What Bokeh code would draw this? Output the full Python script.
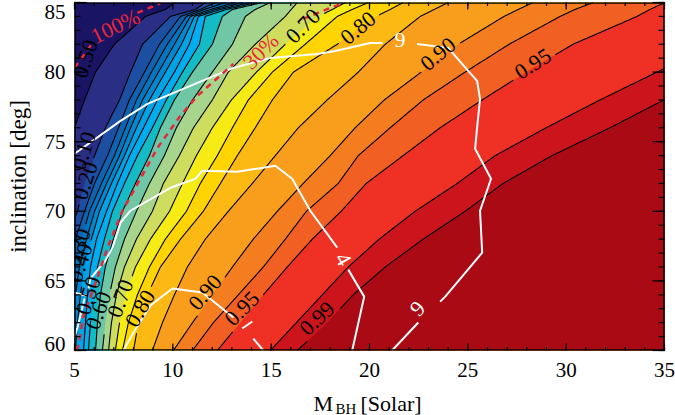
import numpy as np
from bokeh.plotting import figure
from bokeh.layouts import column
from bokeh.embed import file_html
from bokeh.resources import INLINE
from bokeh.core.properties import value
from bokeh.models import FixedTicker, LabelSet, ColumnDataSource

# Inclination rows at which each contour's M_BH was read
inclination = [60, 62, 64, 66, 68, 70, 72, 74, 76, 78, 80, 82, 84, 84.5, 85]

# Contour positions (M_BH along the rows above)
c010 = [2.26, 2.51, 2.76, 3.02, 3.53, 4.03, 4.29, 4.59, 5.0, 5.51, 6.07, 7.03, 8.61, 9.62, 10.13]
c020 = [3.27, 3.53, 3.78, 4.09, 4.59, 5.15, 5.51, 6.02, 6.57, 7.29, 7.85, 8.46, 9.88, 11.15, 11.66]
c025 = [4.03, 4.19, 4.39, 4.64, 5.05, 5.51, 6.02, 6.68, 7.24, 7.79, 8.56, 9.32, 10.39, 11.40, 12.16]
c030 = [4.39, 4.54, 4.75, 5.0, 5.36, 5.76, 6.37, 7.03, 7.59, 8.15, 8.91, 9.72, 10.69, 11.60, 12.67]
c035 = [4.70, 4.85, 5.05, 5.25, 5.61, 6.02, 6.63, 7.29, 7.85, 8.46, 9.27, 10.08, 10.89, 11.91, 13.18]
c040 = [5.05, 5.15, 5.30, 5.51, 5.86, 6.27, 6.88, 7.54, 8.15, 8.81, 9.62, 10.44, 11.10, 12.16, 13.59]
c045 = [5.46, 5.56, 5.66, 5.81, 6.12, 6.63, 7.18, 7.79, 8.51, 9.22, 10.08, 10.84, 11.30, 12.42, 13.94]
c050 = [5.71, 5.81, 5.97, 6.17, 6.52, 6.93, 7.54, 8.20, 8.96, 9.67, 10.49, 11.35, 11.65, 12.72, 14.25]
c055 = [6.07, 6.17, 6.32, 6.57, 6.98, 7.44, 8.10, 8.81, 9.37, 10.08, 11.0, 12.01, 12.52, 13.03, 14.55]
c060 = [6.42, 6.57, 6.78, 7.08, 7.54, 8.15, 8.81, 9.57, 10.18, 11.0, 12.01, 13.03, 13.69, 14.19, 14.96]
c065 = [6.73, 6.88, 7.13, 7.54, 8.15, 8.96, 9.52, 10.33, 11.05, 12.01, 12.82, 14.19, 15.72, 16.02, 16.33]
c070 = [7.08, 7.29, 7.59, 8.10, 8.86, 9.83, 10.49, 11.20, 12.01, 12.98, 14.25, 15.72, 17.40, 18.11, 18.77]
c075 = [7.44, 7.74, 8.20, 8.81, 9.62, 10.69, 11.40, 12.26, 13.03, 13.84, 15.06, 16.73, 18.36, 19.12, 19.94]
c080 = [8.0, 8.25, 8.71, 9.37, 10.39, 11.55, 12.42, 13.28, 14.19, 15.06, 16.13, 18.36, 20.34, 21.05, 21.71]
c085 = [8.96, 9.47, 10.08, 10.74, 11.65, 12.82, 14.04, 15.21, 16.38, 17.85, 19.43, 20.80, 22.58, 23.29, 24.0]
c090 = [10.03, 11.0, 12.01, 13.03, 14.09, 15.31, 16.63, 18.0, 19.27, 20.75, 22.63, 24.51, 26.84, 27.56, 28.32]
c0925 = [11.0, 12.06, 13.33, 14.60, 15.72, 16.79, 18.41, 19.43, 21.05, 22.73, 24.86, 27.10, 29.69, 30.45, 31.37]
c095 = [12.26, 13.43, 14.60, 15.82, 17.09, 18.56, 19.83, 21.71, 23.59, 25.73, 27.96, 30.35, 33.60, 34.26, 35.02]
c097 = [14.96, 16.28, 17.60, 18.92, 20.49, 22.32, 24.46, 26.39, 28.98, 31.72, 34.62, 37.56, 40.6, 41.4, 42.1]
c099 = [16.33, 17.85, 19.17, 20.80, 22.73, 24.86, 26.79, 29.28, 32.23, 34.97, 37.8, 40.6, 43.7, 44.4, 45.2]

contours = [c010, c020, c025, c030, c035, c040, c045, c050, c055, c060, c065, c070, c075, c080, c085, c090, c0925, c095, c097, c099]
levels = [0.10, 0.20, 0.25, 0.30, 0.35, 0.40, 0.45, 0.50, 0.55, 0.60, 0.65, 0.70, 0.75, 0.80, 0.85, 0.90, 0.925, 0.95, 0.97, 0.99]
band_colors = ["#2B2E85", "#1C4FA1", "#0F63B0", "#0077C0", "#0088D0", "#00A4E6", "#00AEEF", "#14BAC4", "#6FC7A5", "#A6D58B",
               "#CEDD5E", "#F6EB14", "#FFD400", "#FDB913", "#F99D1C", "#F47D20", "#F15F22", "#EF3024", "#CC141C", "#AA0A14"]
background_color = "#1A1464"

# Contour labels
label_text = ["0.99", "0.95", "0.90", "0.80", "0.70", "0.60", "0.50", "0.40", "0.30", "0.20", "0.10", "0.50", "0.70", "0.80", "0.90", "0.95"]
label_mbh = [17.34, 13.53, 11.65, 8.35, 7.34, 6.22, 5.71, 5.30, 5.20, 5.56, 5.46, 5.56, 16.63, 19.43, 23.49, 28.32]
label_inc = [62.29, 63.01, 64.16, 63.01, 63.73, 62.87, 63.94, 66.31, 67.39, 72.19, 74.34, 80.94, 83.3, 83.16, 81.29, 80.58]
label_angle = [43, 45, 50, 60, 70, 70, 72, 72, 72, 72, 72, 72, 45, 40, 40, 32]

# White contours
white_m = [
    [5.0, 7.34, 8.71, 11.25, 13.08, 14.96, 17.34, 18.26, 20.04, 20.65],
    [22.42, 24.0, 25.02, 25.47, 25.62, 25.47, 25.37, 26.18, 25.62, 25.73, 23.85, 23.59],
    [22.48, 21.15],
    [5.71, 5.81, 6.57, 6.93, 7.34, 7.84, 9.88, 11.15, 11.5, 13.28, 15.21, 16.07, 16.99, 18.36],
    [18.92, 19.73, 19.12],
    [5.0, 5.56],
    [5.51, 5.15, 5.0],
    [7.49, 8.0, 8.86, 9.98, 11.5, 13.08],
    [13.53, 14.04],
    [14.09, 14.6],
]
white_i = [
    [74.13, 76.5, 77.72, 79.23, 80.3, 81.02, 81.3, 81.52, 82.09, 82.09],
    [82.02, 81.74, 80.09, 79.37, 78.08, 76.0, 74.49, 72.34, 70.04, 67.03, 63.87, 63.51],
    [62.01, 60.0],
    [64.45, 65.16, 66.46, 67.39, 69.18, 70.04, 71.69, 72.34, 72.91, 72.84, 73.27, 72.34, 70.04, 67.39],
    [65.81, 63.87, 60.0],
    [64.16, 63.95],
    [63.73, 61.65, 60.93],
    [60.0, 61.29, 63.23, 64.45, 64.16, 62.37],
    [61.58, 62.08],
    [60.86, 60.0],
]
white_text = ["9", "9", "4"]
white_text_m = [21.55, 22.45, 18.65]
white_text_i = [82.3, 63.0, 66.55]
white_text_angle = [0, 45, -60]

# Red dashed contours
red_m = [[5.0, 5.56, 5.91], [8.2, 9.37], [5.10, 5.2, 5.46, 6.17, 6.68, 7.44, 9.22, 10.38, 11.25, 13.08], [16.63, 17.85, 18.77]]
red_i = [[80.3, 81.38, 82.09], [84.25, 84.96], [60.0, 60.36, 62.51, 65.24, 67.39, 70.04, 74.56, 76.86, 78.29, 80.59], [83.82, 84.53, 85.0]]
red_text = ["100%", "30%"]
red_text_m = [7.08, 14.47]
red_text_i = [83.3, 81.5]
red_text_angle = [26, 45]

x_major = [5, 10, 15, 20, 25, 30, 35]
y_major = [60, 65, 70, 75, 80, 85]
# The lowest and highest y labels sit a little inside the axis ends in the reference
y_label_pos = [60.5, 65, 70, 75, 80, 84.3]
y_label_txt = {60.5: "60", 65: "65", 70: "70", 75: "75", 80: "80", 84.3: "85"}
x_minor = list(range(5, 36))
y_minor = list(range(60, 86))

FONT = "Liberation Serif"
PX_W, PX_H = 590, 348
x_lo, x_hi, y_lo, y_hi = 5, 35, 60, 85
dx = (x_hi - x_lo) / PX_W   # data units per pixel
dy = (y_hi - y_lo) / PX_H

p = figure(width=675, height=385, output_backend="svg", toolbar_location=None,
           x_range=(x_lo, x_hi), y_range=(y_lo, y_hi),
           min_border_left=74, min_border_right=11, min_border_top=2, min_border_bottom=35,
           frame_width=PX_W, frame_height=PX_H,
           background_fill_color=background_color, border_fill_color="white")
p.grid.visible = False
p.outline_line_color = None


def to_px(m, i):
    return (np.asarray(m) - x_lo) / dx, (np.asarray(i) - y_lo) / dy


# filled bands, painted from the lowest level upward
for c, col in zip(contours, band_colors):
    xs = list(c) + [100, 100]
    ys = list(inclination) + [85, 60]
    p.patch(xs, ys, fill_color=col, line_color=None)

# contour lines with gaps round their labels
for c, lev in zip(contours, levels):
    xs, ys = [], []
    for k in range(len(c) - 1):
        t = np.linspace(0, 1, 24, endpoint=False)
        xs.extend(c[k] + (c[k + 1] - c[k]) * t)
        ys.extend(inclination[k] + (inclination[k + 1] - inclination[k]) * t)
    xs.append(c[-1]); ys.append(inclination[-1])
    xs, ys = np.array(xs), np.array(ys)
    px, py = to_px(xs, ys)
    keep = np.ones(len(xs), bool)
    for s, lm, li in zip(label_text, label_mbh, label_inc):
        if abs(float(s) - lev) < 1e-6:
            lx, ly = to_px(lm, li)
            keep &= np.hypot(px - lx, py - ly) > 24
    xs = np.where(keep, xs, np.nan)
    ys = np.where(keep, ys, np.nan)
    p.line(xs, ys, line_color="black", line_width=1.1)

for xs, ys in zip(white_m, white_i):
    p.line(xs, ys, line_color="white", line_width=2)
for xs, ys in zip(red_m, red_i):
    p.line(xs, ys, line_color="#E8283A", line_width=2.5, line_dash="6 5")

# inward ticks on all four sides and the frame
tick_xs, tick_ys = [], []
for where, major, minor, a, b in (("bottom", x_major, x_minor, 7, 3.5), ("top", x_major, x_minor, 7, 3.5),
                                  ("left", y_major, y_minor, 12, 6), ("right", y_major, y_minor, 12, 6)):
    for vals, n in ((major, a), (minor, b)):
        for v in vals:
            if where == "bottom":
                tick_xs.append([v, v]); tick_ys.append([y_lo, y_lo + n * dy])
            elif where == "top":
                tick_xs.append([v, v]); tick_ys.append([y_hi, y_hi - n * dy])
            elif where == "left":
                tick_xs.append([x_lo, x_lo + n * dx]); tick_ys.append([v, v])
            else:
                tick_xs.append([x_hi, x_hi - n * dx]); tick_ys.append([v, v])
p.multi_line(tick_xs, tick_ys, line_color="black", line_width=1.2, level="overlay")
# the frame, kept just inside the plot area so its full width shows
fx = [x_lo + 0.6 * dx, x_hi - 0.6 * dx, x_hi - 0.6 * dx, x_lo + 0.6 * dx, x_lo + 0.6 * dx]
fy = [y_lo + 0.6 * dy, y_lo + 0.6 * dy, y_hi - 0.6 * dy, y_hi - 0.6 * dy, y_lo + 0.6 * dy]
p.line(fx, fy, line_color="black", line_width=1.4, level="overlay")

labels = ColumnDataSource(dict(x=label_mbh, y=label_inc, t=label_text, a=label_angle))
p.add_layout(LabelSet(x="x", y="y", text="t", angle="a", angle_units="deg", source=labels,
                      text_font=FONT, text_font_size="22px", text_color="black",
                      text_align="center", text_baseline="middle"))
whites = ColumnDataSource(dict(x=white_text_m, y=white_text_i, t=white_text, a=white_text_angle))
p.add_layout(LabelSet(x="x", y="y", text="t", angle="a", angle_units="deg", source=whites,
                      text_font=FONT, text_font_size="22px", text_color="white",
                      text_align="center", text_baseline="middle"))
reds = ColumnDataSource(dict(x=red_text_m, y=red_text_i, t=red_text, a=red_text_angle))
p.add_layout(LabelSet(x="x", y="y", text="t", angle="a", angle_units="deg", source=reds,
                      text_font=FONT, text_font_size="22px", text_color="#E8283A",
                      text_align="center", text_baseline="middle"))


def style(ax, major):
    ax.ticker = FixedTicker(ticks=major)
    ax.major_tick_in = 0
    ax.major_tick_out = 0
    ax.minor_tick_in = 0
    ax.minor_tick_out = 0
    ax.axis_line_color = None
    ax.major_tick_line_color = None
    ax.minor_tick_line_color = None
    ax.major_label_text_font = FONT
    ax.major_label_text_font_size = "21px"
    ax.major_label_text_color = "black"


style(p.xaxis[0], x_major)
style(p.yaxis[0], y_label_pos)
p.xaxis[0].major_label_standoff = 12
p.yaxis[0].major_label_standoff = 9
p.yaxis[0].major_label_overrides = y_label_txt
p.yaxis[0].axis_label = "inclination [deg]"
p.yaxis[0].axis_label_text_font = FONT
p.yaxis[0].axis_label_text_font_style = "normal"
p.yaxis[0].axis_label_text_font_size = "23px"
p.yaxis[0].axis_label_text_color = "black"
p.yaxis[0].axis_label_standoff = 11

# x-axis title with a subscript, set in a strip below the plot
strip = figure(width=675, height=30, output_backend="svg", toolbar_location=None,
               frame_width=590, frame_height=30,
               x_range=(0, 590), y_range=(30, 0), x_axis_type=None, y_axis_type=None,
               min_border_left=74, min_border_right=11, min_border_top=0, min_border_bottom=0,
               outline_line_color=None)
strip.grid.visible = False
strip.text(x=[239, 261, 286], y=[18, 23, 18], text=["M", "BH", "[Solar]"],
           text_font=value(FONT), text_font_size=["22px", "15px", "22px"],
           text_color="black", text_baseline="alphabetic")

layout = column(p, strip, spacing=0)
layout.styles = {"position": "absolute", "left": "0px", "top": "0px"}

open("out.html", "w").write(file_html(layout, INLINE))
